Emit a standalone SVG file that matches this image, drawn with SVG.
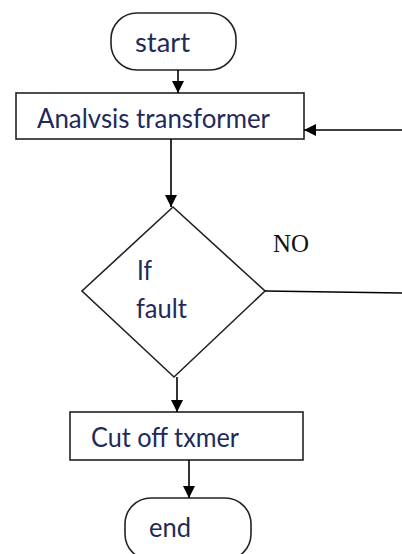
<svg xmlns="http://www.w3.org/2000/svg" width="402" height="554" viewBox="0 0 402 554">
<defs>
<marker id="ah" viewBox="0 0 12 12" refX="12" refY="6" markerWidth="12" markerHeight="12" markerUnits="userSpaceOnUse" orient="auto">
<path d="M0,0 L12,6 L0,12 Z" fill="#000"/>
</marker>
</defs>
<style>
.shape{fill:#fff;stroke:#222;stroke-width:1.6}
.lbl{font-family:Lato,"Liberation Sans",Arial,sans-serif;font-size:26px;fill:#1f2a5c}
.edge{stroke:#000;stroke-width:1.6;fill:none}
.serif{font-family:"Liberation Serif","Times New Roman",serif;font-size:25px;fill:#111}
</style>
<rect width="402" height="554" fill="#fff"/>
<g id="start">
<rect class="shape" x="111" y="13" width="125" height="57" rx="26" ry="26"/>
<text class="lbl" x="135" y="52" textLength="55" lengthAdjust="spacingAndGlyphs">start</text>
</g>
<g id="analysis">
<rect class="shape" x="16" y="93" width="288" height="46"/>
<text class="lbl" x="37" y="128" textLength="233" lengthAdjust="spacingAndGlyphs">Analvsis transformer</text>
</g>
<g id="decision">
<polygon class="shape" points="173,207 265,291 174,377 82,291"/>
<text class="lbl" x="137" y="280" textLength="15" lengthAdjust="spacingAndGlyphs">If</text>
<text class="lbl" x="136" y="318" textLength="51" lengthAdjust="spacingAndGlyphs">fault</text>
</g>
<g id="cutoff">
<rect class="shape" x="70" y="412" width="233" height="48"/>
<text class="lbl" x="91" y="447" textLength="148" lengthAdjust="spacingAndGlyphs">Cut off txmer</text>
</g>
<g id="end">
<rect class="shape" x="125" y="498" width="126" height="62" rx="26" ry="26"/>
<text class="lbl" x="149" y="537" textLength="42" lengthAdjust="spacingAndGlyphs">end</text>
</g>
<g id="connectors">
<line class="edge" x1="178" y1="70" x2="178" y2="93" marker-end="url(#ah)"/>
<line class="edge" x1="171" y1="139" x2="171" y2="207" marker-end="url(#ah)"/>
<line class="edge" x1="402" y1="130" x2="304" y2="130" marker-end="url(#ah)"/>
<line class="edge" x1="265" y1="291" x2="402" y2="293" stroke="#333"/>
<line class="edge" x1="177" y1="377" x2="177" y2="412" marker-end="url(#ah)"/>
<line class="edge" x1="189" y1="460" x2="189" y2="498" marker-end="url(#ah)"/>
<text class="serif" x="273" y="252" textLength="36" lengthAdjust="spacingAndGlyphs">NO</text>
</g>
</svg>
